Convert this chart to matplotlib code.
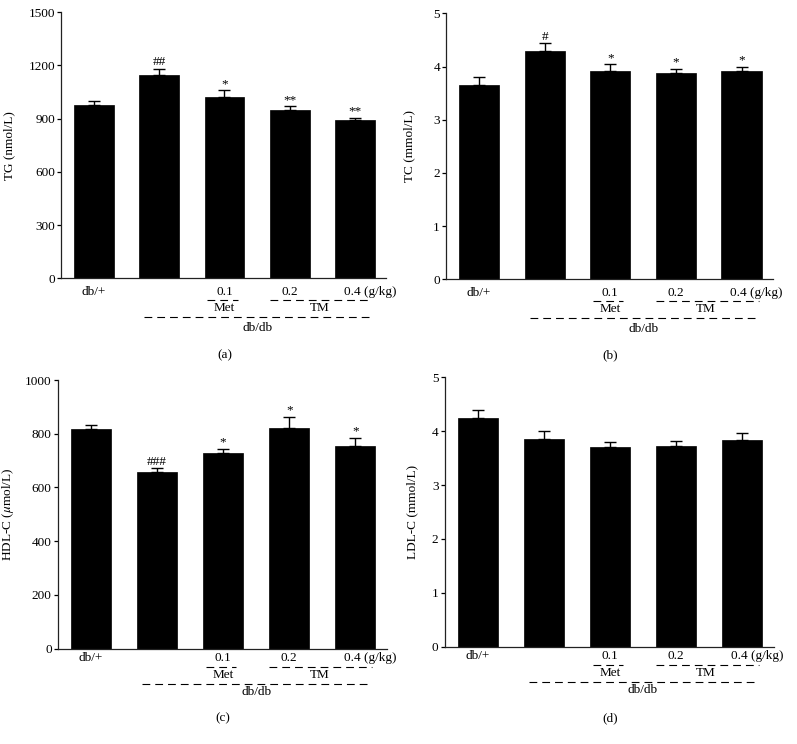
import matplotlib
matplotlib.use("Agg")
import matplotlib.pyplot as plt
import matplotlib.transforms as mtransforms
import numpy as np

plt.rcParams['font.family'] = ['Liberation Serif', 'DejaVu Serif']
plt.rcParams['mathtext.fontset'] = 'stix'

groups = ["db/+", "db/db", "Met 0.1", "TM 0.2", "TM 0.4"]

tg_mean = [975, 1148, 1025, 948, 890]
tg_err = [25, 35, 35, 22, 16]
tg_sig = ["", "##", "*", "**", "**"]

tc_mean = [3.65, 4.30, 3.92, 3.88, 3.92]
tc_err = [0.15, 0.14, 0.12, 0.07, 0.07]
tc_sig = ["", "#", "*", "*", "*"]

hdl_mean = [818, 657, 728, 820, 753]
hdl_err = [13, 14, 17, 43, 31]
hdl_sig = ["", "###", "*", "*", "*"]

ldl_mean = [4.25, 3.86, 3.71, 3.72, 3.83]
ldl_err = [0.15, 0.15, 0.09, 0.10, 0.13]
ldl_sig = ["", "", "", "", ""]

tick_labels = ["db/+", "", "0.1", "0.2", "0.4 (g/kg)"]

W, H = 797, 744
fig = plt.figure(figsize=(W / 100, H / 100), dpi=100)

top_offs = (16.7, 21.7, 32.7, 39.0, 52.4)
bot_offs = (12.3, 18.0, 29.0, 35.0, 46.3)

panels = [
    dict(box=(61.3, 278.3, 325, 266), mean=tg_mean, err=tg_err, sig=tg_sig,
         ylim=1500, yticks=[0, 300, 600, 900, 1200, 1500], ylabel="TG (nmol/L)",
         lab=46, cap="(a)", capy=355, offs=top_offs),
    dict(box=(446.2, 279.3, 326.8, 266), mean=tc_mean, err=tc_err, sig=tc_sig,
         ylim=5, yticks=[0, 1, 2, 3, 4, 5], ylabel="TC (mmol/L)",
         lab=31, cap="(b)", capy=355, offs=top_offs),
    dict(box=(58.0, 648.7, 329, 268.7), mean=hdl_mean, err=hdl_err, sig=hdl_sig,
         ylim=1000, yticks=[0, 200, 400, 600, 800, 1000], ylabel=r"HDL-C ($\mu$mol/L)",
         lab=42, cap="(c)", capy=718, offs=bot_offs),
    dict(box=(444.8, 646.7, 328.7, 269.4), mean=ldl_mean, err=ldl_err, sig=ldl_sig,
         ylim=5, yticks=[0, 1, 2, 3, 4, 5], ylabel="LDL-C (mmol/L)",
         lab=27, cap="(d)", capy=718, offs=bot_offs),
]

fs = 9.5
k = 0.72  # px -> pt
for p in panels:
    l, b, w, h = p["box"]
    ax = fig.add_axes([l / W, 1 - b / H, w / W, h / H])
    x = np.arange(len(groups))
    ax.bar(x, p["mean"], width=0.61, color="black", edgecolor="black", linewidth=0.5, zorder=2)
    ax.errorbar(x, p["mean"], yerr=[np.zeros(len(x)), p["err"]], fmt="none",
                ecolor="black", elinewidth=1.0, capsize=4.5, capthick=1.0, zorder=1)
    for xi, m, e, s in zip(x, p["mean"], p["err"], p["sig"]):
        if s:
            ax.annotate(s, xy=(xi, m + e), xytext=(0, 0.3), textcoords="offset points",
                        ha="center", va="bottom", fontsize=fs)
    ax.set_xlim(-0.5, 4.48)
    ax.set_ylim(0, p["ylim"])
    ax.set_yticks(p["yticks"])
    ax.set_xticks([])
    for sp in ["top", "right"]:
        ax.spines[sp].set_visible(False)
    for sp in ["left", "bottom"]:
        ax.spines[sp].set_linewidth(0.9)
        ax.spines[sp].set_color("#222222")
    ax.tick_params(axis="y", direction="out", length=3, width=0.9, pad=1.5, labelsize=fs)
    ax.set_ylabel(p["ylabel"], fontsize=fs)
    ax.yaxis.set_label_coords(-p["lab"] / w, 0.5)

    o1, o2, o3, o4, o5 = p["offs"]
    trans = ("data", "axes fraction")
    for xi, t in enumerate(tick_labels):
        if not t:
            continue
        if xi == 4:
            ax.annotate(t, xy=(xi - 0.17, 0), xycoords=trans, xytext=(0, -o1 * k),
                        textcoords="offset points", ha="left", va="baseline", fontsize=fs)
        else:
            ax.annotate(t, xy=(xi, 0), xycoords=trans, xytext=(0, -o1 * k),
                        textcoords="offset points", ha="center", va="baseline", fontsize=fs)
    ax.annotate("Met", xy=(2.0, 0), xycoords=trans, xytext=(0, -o3 * k),
                textcoords="offset points", ha="center", va="baseline", fontsize=fs)
    ax.annotate("TM", xy=(3.46, 0), xycoords=trans, xytext=(0, -o3 * k),
                textcoords="offset points", ha="center", va="baseline", fontsize=fs)
    ax.annotate("db/db", xy=(2.5, 0), xycoords=trans, xytext=(0, -o5 * k),
                textcoords="offset points", ha="center", va="baseline", fontsize=fs)

    tr = mtransforms.blended_transform_factory(ax.transData, ax.transAxes)

    def hline(x0, x1, off):
        y = -off / h
        ax.plot([x0, x1], [y, y], transform=tr, color="black", lw=0.8,
                linestyle=(0, (7, 4.5)), clip_on=False)
    hline(1.74, 2.2, o2)
    hline(2.70, 4.26, o2)
    hline(0.77, 4.26, o4)

    cx = (l + (w / 4.98) * 2.5) / W
    fig.text(cx, 1 - p["capy"] / H, p["cap"], ha="center", va="center", fontsize=fs)

fig.savefig("out.png", dpi=100)
